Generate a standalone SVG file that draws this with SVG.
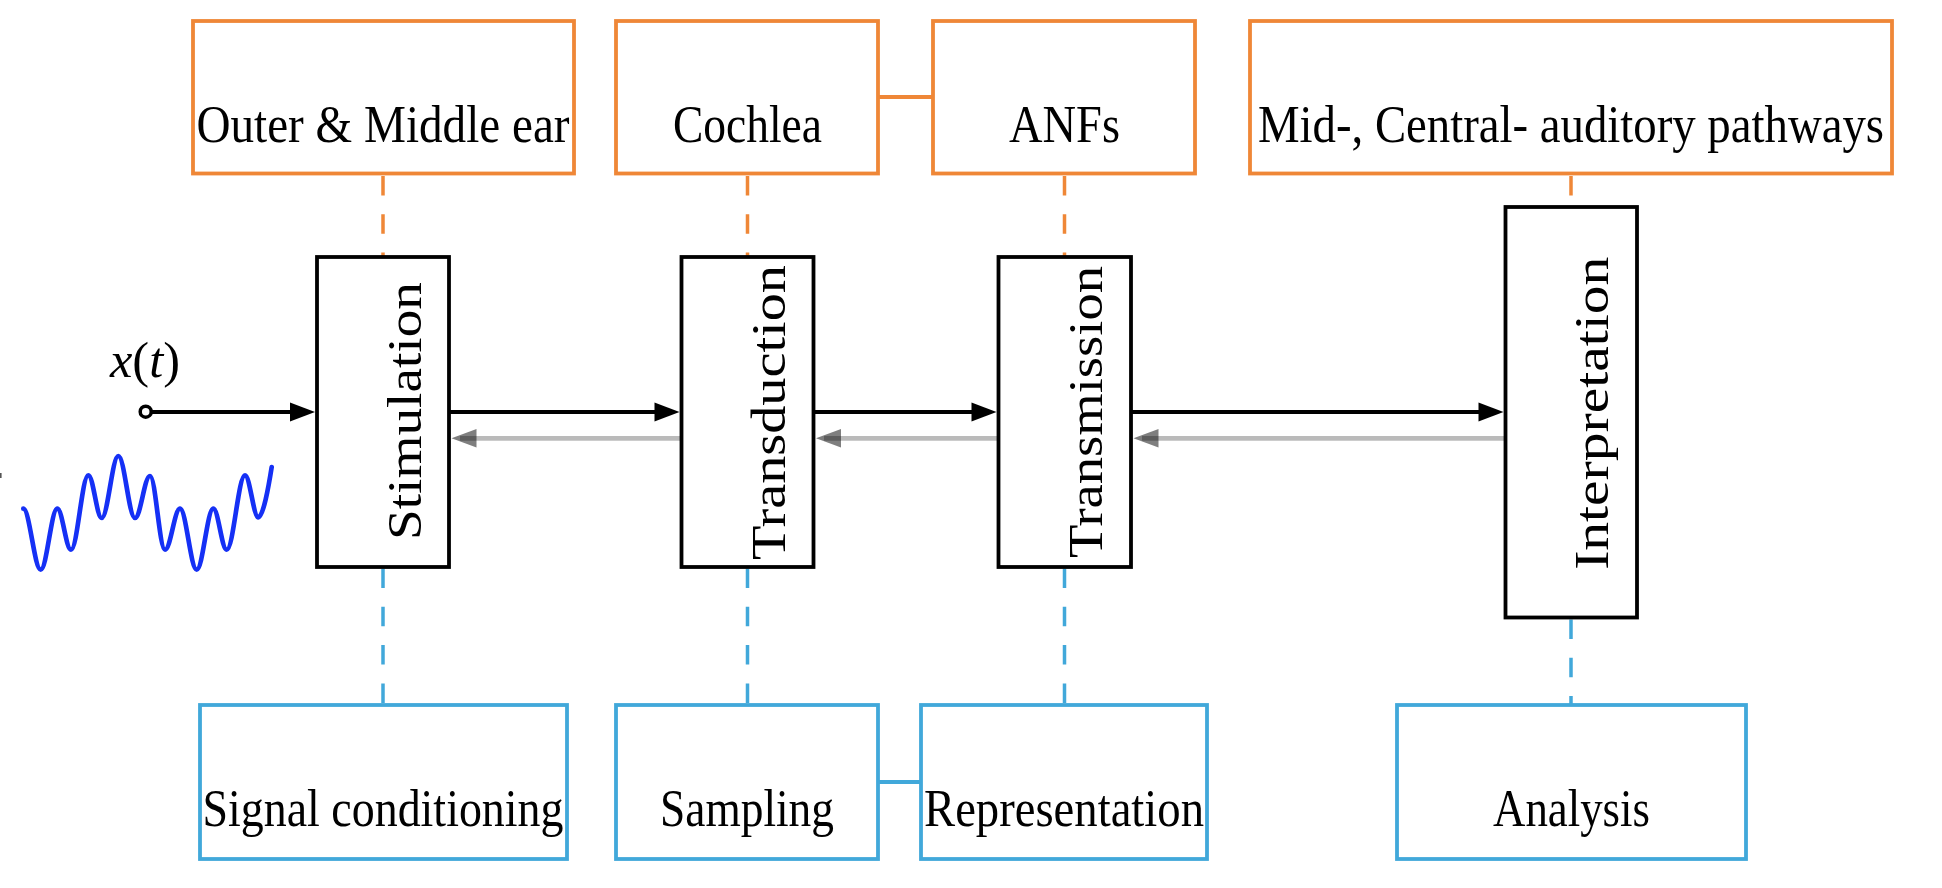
<svg xmlns="http://www.w3.org/2000/svg" width="1942" height="888" viewBox="0 0 1942 888">
  <style>
    .obox { fill: #ffffff; stroke: #EF8737; stroke-width: 3.8; }
    .bbox { fill: #ffffff; stroke: #41A8DA; stroke-width: 3.8; }
    .kbox { fill: #ffffff; stroke: #000000; stroke-width: 3.8; }
    .lbl { font-family: "Liberation Serif", "Times New Roman", serif; font-size: 53px; fill: #000; text-anchor: middle; }
    .vlbl { font-family: "Liberation Serif", "Times New Roman", serif; font-size: 48px; fill: #000; text-anchor: middle; }
    .odash { stroke: #EF8737; stroke-width: 3.5; stroke-dasharray: 19.5 18.8; fill: none; }
    .bdash { stroke: #41A8DA; stroke-width: 3.5; stroke-dasharray: 19.5 18.8; fill: none; }
    .fwd { stroke: #000; stroke-width: 4; fill: none; }
    .back { stroke: #000; stroke-opacity: 0.27; stroke-width: 4.7; fill: none; }
    .fhead { fill: #000; }
    .bhead { fill: #000; fill-opacity: 0.5; }
  </style>
  <rect x="0" y="0" width="1942" height="888" fill="#ffffff"/>

  <g id="connectors">
    <line x1="878" y1="97" x2="933" y2="97" stroke="#EF8737" stroke-width="3.8"/>
    <line x1="878" y1="782" x2="921" y2="782" stroke="#41A8DA" stroke-width="3.8"/>
    <line class="odash" x1="383" y1="176" x2="383" y2="257"/>
    <line class="odash" x1="747.5" y1="176" x2="747.5" y2="257"/>
    <line class="odash" x1="1064.5" y1="176" x2="1064.5" y2="257"/>
    <line class="odash" x1="1571" y1="176" x2="1571" y2="207"/>
    <line class="bdash" x1="383" y1="568.5" x2="383" y2="705"/>
    <line class="bdash" x1="747.5" y1="568.5" x2="747.5" y2="705"/>
    <line class="bdash" x1="1064.5" y1="568.5" x2="1064.5" y2="705"/>
    <line class="bdash" x1="1571" y1="619.5" x2="1571" y2="705"/>
    <line class="fwd" x1="151" y1="412" x2="295" y2="412"/>
    <polygon class="fhead" points="315,412 290,402.5 290,421.5"/>
    <line class="fwd" x1="449" y1="412" x2="659" y2="412"/>
    <polygon class="fhead" points="679.5,412 654.5,402.5 654.5,421.5"/>
    <line class="fwd" x1="813.5" y1="412" x2="976" y2="412"/>
    <polygon class="fhead" points="996.5,412 971.5,402.5 971.5,421.5"/>
    <line class="fwd" x1="1131" y1="412" x2="1483" y2="412"/>
    <polygon class="fhead" points="1503.5,412 1478.5,402.5 1478.5,421.5"/>
    <line class="back" x1="681.5" y1="438.3" x2="460" y2="438.3"/>
    <polygon class="bhead" points="451.5,438.3 476.5,429 476.5,447.6"/>
    <line class="back" x1="998.5" y1="438.3" x2="824" y2="438.3"/>
    <polygon class="bhead" points="816,438.3 841,429 841,447.6"/>
    <line class="back" x1="1505.5" y1="438.3" x2="1142" y2="438.3"/>
    <polygon class="bhead" points="1133.5,438.3 1158.5,429 1158.5,447.6"/>
  </g>

  <g id="input">
    <circle cx="145.7" cy="411.7" r="5.5" fill="#ffffff" stroke="#000" stroke-width="3.5"/>
    <text x="145" y="376.7" font-family="Liberation Serif, 'Times New Roman', serif" font-size="50" text-anchor="middle" textLength="70" lengthAdjust="spacingAndGlyphs"><tspan font-style="italic">x</tspan>(<tspan font-style="italic">t</tspan>)</text>
    <path d="M23.3,508.7 C29.6,508.7 34.4,569.7 40.7,569.7 C46.7,569.7 51.3,508.7 57.3,508.7 C62.3,508.7 66,549.7 71,549.7 C77.3,549.7 82,475.3 88.3,475.3 C93.2,475.3 96.8,518 101.7,518 C107.7,518 112.3,456 118.3,456 C124.4,456 128.9,518 135,518 C140.5,518 144.5,476 150,476 C155.5,476 159.5,549.7 165,549.7 C170.5,549.7 174.5,508.7 180,508.7 C186.1,508.7 190.6,569.7 196.7,569.7 C202.7,569.7 207.3,508.7 213.3,508.7 C218.2,508.7 221.8,549.7 226.7,549.7 C233.4,549.7 238.3,475.3 245,475.3 C249.8,475.3 253.5,517.3 258.3,517.3 C263.2,517.3 268.7,486 271.7,467" fill="none" stroke="#1530F5" stroke-width="4.7" stroke-linecap="round"/>
    <line x1="0.8" y1="473" x2="0.8" y2="478" stroke="#555" stroke-width="1.6"/>
  </g>

  <g id="outer-middle-ear">
    <rect class="obox" x="193" y="21" width="381" height="152.5"/>
    <text class="lbl" x="383" y="142" textLength="373" lengthAdjust="spacingAndGlyphs">Outer &amp; Middle ear</text>
  </g>
  <g id="cochlea">
    <rect class="obox" x="616" y="21" width="262" height="152.5"/>
    <text class="lbl" x="747.5" y="142" textLength="149" lengthAdjust="spacingAndGlyphs">Cochlea</text>
  </g>
  <g id="anfs">
    <rect class="obox" x="933" y="21" width="262" height="152.5"/>
    <text class="lbl" x="1064.5" y="142" textLength="111" lengthAdjust="spacingAndGlyphs">ANFs</text>
  </g>
  <g id="pathways">
    <rect class="obox" x="1250" y="21" width="642" height="152.5"/>
    <text class="lbl" x="1571" y="142" textLength="626" lengthAdjust="spacingAndGlyphs">Mid-, Central- auditory pathways</text>
  </g>

  <g id="stimulation">
    <rect class="kbox" x="317" y="257" width="132" height="310"/>
    <text class="vlbl" transform="translate(420.5,411) rotate(-90)" x="0" y="0" textLength="258" lengthAdjust="spacingAndGlyphs">Stimulation</text>
  </g>
  <g id="transduction">
    <rect class="kbox" x="681.5" y="257" width="132" height="310"/>
    <text class="vlbl" transform="translate(785,412.5) rotate(-90)" x="0" y="0" textLength="295" lengthAdjust="spacingAndGlyphs">Transduction</text>
  </g>
  <g id="transmission">
    <rect class="kbox" x="998.5" y="257" width="132.5" height="310"/>
    <text class="vlbl" transform="translate(1102,412) rotate(-90)" x="0" y="0" textLength="292" lengthAdjust="spacingAndGlyphs">Transmission</text>
  </g>
  <g id="interpretation">
    <rect class="kbox" x="1505.5" y="207" width="131.5" height="410.5"/>
    <text class="vlbl" transform="translate(1608,413.3) rotate(-90)" x="0" y="0" textLength="313" lengthAdjust="spacingAndGlyphs">Interpretation</text>
  </g>

  <g id="signal-conditioning">
    <rect class="bbox" x="200" y="705" width="367" height="154"/>
    <text class="lbl" x="383" y="825.7" textLength="361" lengthAdjust="spacingAndGlyphs">Signal conditioning</text>
  </g>
  <g id="sampling">
    <rect class="bbox" x="616" y="705" width="262" height="154"/>
    <text class="lbl" x="747" y="825.7" textLength="174" lengthAdjust="spacingAndGlyphs">Sampling</text>
  </g>
  <g id="representation">
    <rect class="bbox" x="921" y="705" width="286" height="154"/>
    <text class="lbl" x="1064" y="825.7" textLength="280" lengthAdjust="spacingAndGlyphs">Representation</text>
  </g>
  <g id="analysis">
    <rect class="bbox" x="1397" y="705" width="349" height="154"/>
    <text class="lbl" x="1571.5" y="825.7" textLength="157" lengthAdjust="spacingAndGlyphs">Analysis</text>
  </g>
</svg>
